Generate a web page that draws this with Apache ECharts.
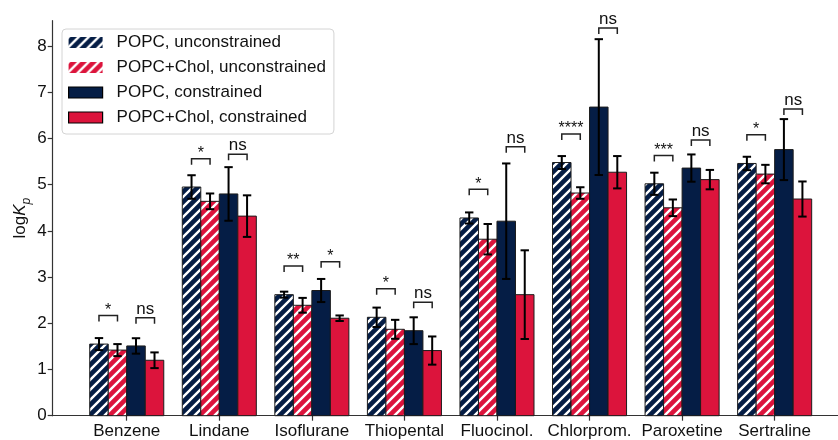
<!DOCTYPE html>
<html>
<head>
<meta charset="utf-8">
<script src="https://cdn.jsdelivr.net/npm/echarts@6/dist/echarts.min.js"></script>
<style>
  html, body { margin: 0; padding: 0; background: #fff; }
  #chart { width: 838px; height: 440px; }
</style>
</head>
<body>
<div id="chart"></div>
<script>
// Partition coefficients (log Kp) per compound and membrane model
const categories = ['Benzene', 'Lindane', 'Isoflurane', 'Thiopental', 'Fluocinol.', 'Chlorprom.', 'Paroxetine', 'Sertraline'];
const yTicks = [0, 1, 2, 3, 4, 5, 6, 7, 8];

const popcUnconstrained     = [1.55, 4.95, 2.62, 2.13, 4.28, 5.48, 5.02, 5.46];
const popcUnconstrainedErr  = [0.13, 0.255, 0.065, 0.21, 0.12, 0.14, 0.24, 0.145];
const cholUnconstrained     = [1.42, 4.64, 2.39, 1.87, 3.82, 4.82, 4.50, 5.23];
const cholUnconstrainedErr  = [0.13, 0.17, 0.16, 0.205, 0.33, 0.125, 0.18, 0.20];
const popcConstrained       = [1.51, 4.80, 2.71, 1.84, 4.21, 6.68, 5.36, 5.76];
const popcConstrainedErr    = [0.167, 0.58, 0.25, 0.29, 1.25, 1.47, 0.295, 0.66];
const cholConstrained       = [1.20, 4.32, 2.11, 1.41, 2.62, 5.27, 5.11, 4.69];
const cholConstrainedErr    = [0.17, 0.45, 0.06, 0.305, 0.96, 0.35, 0.21, 0.38];

// Significance annotations: unconstrained pair and constrained pair
const sigUnconstrained       = ['*', '*', '**', '*', '*', '****', '***', '*'];
const sigUnconstrainedLevel  = [2.17, 5.56, 3.24, 2.75, 4.90, 6.10, 5.63, 6.08];
const sigConstrained         = ['ns', 'ns', '*', 'ns', 'ns', 'ns', 'ns', 'ns'];
const sigConstrainedLevel    = [2.12, 5.66, 3.335, 2.456, 5.82, 8.39, 5.97, 6.64];

const NAVY = '#051d45';
const RED = '#dc143c';
const EDGE = '#1c1c1c';
const FONT = '"Liberation Sans", Arial, Helvetica, sans-serif';
const BAR_W = 0.2;
const OFFSETS = [-0.3, -0.1, 0.1, 0.3];

// Diagonal "///" hatch as a repeating canvas pattern
function hatch(bg) {
  const p = 10;
  const c = document.createElement('canvas');
  c.width = p; c.height = p;
  const g = c.getContext('2d');
  g.fillStyle = bg;
  g.fillRect(0, 0, p, p);
  g.strokeStyle = '#ffffff';
  g.lineWidth = 2.4;
  g.beginPath();
  g.moveTo(-1, p + 1); g.lineTo(p + 1, -1);
  g.moveTo(-2, 2); g.lineTo(2, -2);
  g.moveTo(p - 2, p + 2); g.lineTo(p + 2, p - 2);
  g.stroke();
  return { image: c, repeat: 'repeat' };
}

const seriesDefs = [
  { name: 'POPC, unconstrained', values: popcUnconstrained, err: popcUnconstrainedErr, fill: hatch(NAVY), hatched: true },
  { name: 'POPC+Chol, unconstrained', values: cholUnconstrained, err: cholUnconstrainedErr, fill: hatch(RED), hatched: true },
  { name: 'POPC, constrained', values: popcConstrained, err: popcConstrainedErr, fill: NAVY, hatched: false },
  { name: 'POPC+Chol, constrained', values: cholConstrained, err: cholConstrainedErr, fill: RED, hatched: false }
];

// Bar with its error bar, placed through the axis scales
function makeBarRenderer(fill) {
  return function (params, api) {
    const x = api.value(0), y = api.value(1), e = api.value(2);
    const tl = api.coord([x - BAR_W / 2, y]);
    const br = api.coord([x + BAR_W / 2, 0]);
    const hi = api.coord([x, y + e]);
    const lo = api.coord([x, y - e]);
    const cap = 4.2;
    const errStyle = { stroke: '#000', lineWidth: 2 };
    return {
      type: 'group',
      children: [
        { type: 'rect', shape: { x: tl[0], y: tl[1], width: br[0] - tl[0], height: br[1] - tl[1] },
          style: { fill: fill, stroke: EDGE, lineWidth: 1 } },
        { type: 'line', shape: { x1: hi[0], y1: hi[1], x2: lo[0], y2: lo[1] }, style: errStyle },
        { type: 'line', shape: { x1: hi[0] - cap, y1: hi[1], x2: hi[0] + cap, y2: hi[1] }, style: errStyle },
        { type: 'line', shape: { x1: lo[0] - cap, y1: lo[1], x2: lo[0] + cap, y2: lo[1] }, style: errStyle }
      ]
    };
  };
}

const barSeries = seriesDefs.map((d, si) => ({
  type: 'custom',
  name: d.name,
  coordinateSystem: 'cartesian2d',
  renderItem: makeBarRenderer(d.fill),
  itemStyle: { color: d.fill, borderColor: EDGE, borderWidth: 1 },
  encode: { x: 0, y: 1 },
  data: d.values.map((v, i) => [i + OFFSETS[si], v, d.err[i]]),
  z: 2
}));

// Brackets between two bars with the test result above
function makeBracketRenderer(labels) {
  return function (params, api) {
    const x1 = api.value(0), x2 = api.value(1), lv = api.value(2);
    const label = labels[params.dataIndex];
    const a = api.coord([x1, lv]);
    const b = api.coord([x2, lv]);
    const leg = 6;
    const isStar = label.charAt(0) === '*';
    return {
      type: 'group',
      children: [
        { type: 'polyline', shape: { points: [[a[0], a[1] + leg], [a[0], a[1]], [b[0], b[1]], [b[0], b[1] + leg]] },
          style: { stroke: '#222', lineWidth: 1.5, fill: null } },
        { type: 'text', x: (a[0] + b[0]) / 2, y: a[1] + (isStar ? 3 : 0),
          style: { text: label, fill: '#111', fontSize: isStar ? 16 : 17, fontFamily: FONT,
                   align: 'center', verticalAlign: 'bottom' } }
      ]
    };
  };
}

function bracketSeries(leftIdx, rightIdx, levels, labels) {
  return {
    type: 'custom', coordinateSystem: 'cartesian2d',
    renderItem: makeBracketRenderer(labels),
    encode: { x: [0, 1], y: 2 },
    data: levels.map((lv, i) => [i + OFFSETS[leftIdx], i + OFFSETS[rightIdx], lv]),
    z: 3
  };
}

const chart = echarts.init(document.getElementById('chart'), null, { renderer: 'canvas' });
chart.setOption({
  animation: false,
  backgroundColor: '#ffffff',
  textStyle: { fontFamily: FONT },
  grid: { left: 52.7, top: 20.7, width: 796, bottom: 24.3, outerBoundsMode: 'none', containLabel: false },
  legend: {
    orient: 'vertical',
    left: 62, top: 29,
    padding: [5, 8, 8, 6],
    itemWidth: 34, itemHeight: 11, itemGap: 8,
    backgroundColor: 'rgba(255,255,255,0.85)',
    borderColor: '#d4d4d4', borderWidth: 1, borderRadius: 4,
    textStyle: { fontSize: 17, lineHeight: 17, color: '#111', fontFamily: FONT, padding: [0, 0, 0, 9] },
    data: seriesDefs.map(d => ({
      name: d.name, icon: 'rect',
      itemStyle: d.hatched ? { color: d.fill, borderWidth: 0 } : { color: d.fill, borderColor: '#000', borderWidth: 1.2 }
    }))
  },
  xAxis: {
    type: 'value',
    min: -0.8, max: 7.8,
    splitLine: { show: false },
    axisLine: { show: true, onZero: false, lineStyle: { color: '#333', width: 1.2 } },
    axisTick: { show: true, inside: false, length: 5, lineStyle: { color: '#333', width: 1.2 },
                customValues: categories.map((c, i) => i) },
    axisLabel: { show: true, margin: 7, fontSize: 17, color: '#111', fontFamily: FONT,
                 customValues: categories.map((c, i) => i),
                 formatter: v => categories[Math.round(v)] }
  },
  yAxis: {
    type: 'value',
    min: 0, max: 8.55,
    splitLine: { show: false },
    axisLine: { show: true, onZero: false, lineStyle: { color: '#333', width: 1.2 } },
    axisTick: { show: true, inside: false, length: 5, lineStyle: { color: '#333', width: 1.2 }, customValues: yTicks },
    axisLabel: { show: true, margin: 6, fontSize: 17, color: '#111', fontFamily: FONT, customValues: yTicks },
    name: '{n|log}{i|K}{s|p}',
    nameLocation: 'middle',
    nameRotate: 90,
    nameGap: 20,
    nameMoveOverlap: false,
    nameTextStyle: {
      rich: {
        n: { fontSize: 17, lineHeight: 24, color: '#111', fontFamily: FONT },
        i: { fontSize: 17, lineHeight: 24, fontStyle: 'italic', color: '#111', fontFamily: FONT },
        s: { fontSize: 12, lineHeight: 12, fontStyle: 'italic', verticalAlign: 'bottom', color: '#111', fontFamily: FONT }
      }
    }
  },
  series: barSeries.concat([
    bracketSeries(0, 1, sigUnconstrainedLevel, sigUnconstrained),
    bracketSeries(2, 3, sigConstrainedLevel, sigConstrained)
  ])
});
</script>
</body>
</html>
